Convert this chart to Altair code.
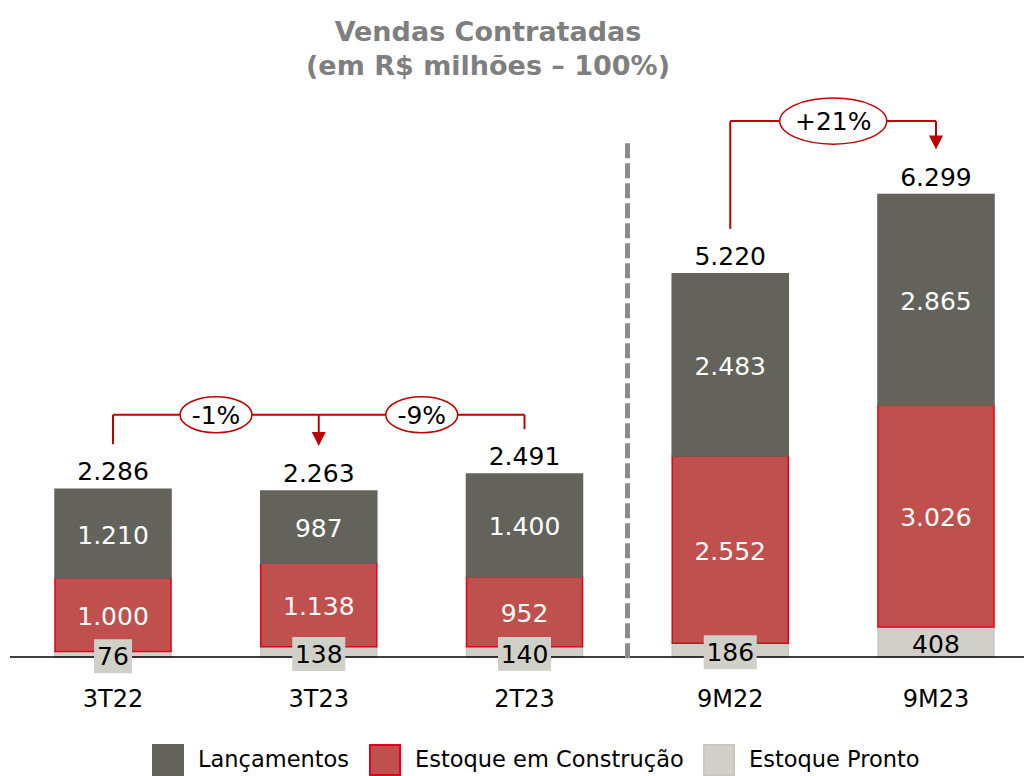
import altair as alt
import pandas as pd

# ---------------- data ----------------
categories = ["3T22", "3T23", "2T23", "9M22", "9M23"]
lancamentos = [1210, 987, 1400, 2483, 2865]
construcao = [1000, 1138, 952, 2552, 3026]
pronto = [76, 138, 140, 186, 408]
totals = [2286, 2263, 2491, 5220, 6299]

series = ["Lançamentos", "Estoque em Construção", "Estoque Pronto"]
title_lines = ["Vendas Contratadas", "(em R$ milhões – 100%)"]

# ---------------- styles ----------------
fill_colors = ["#64635B", "#C0504D", "#D0D0C8"]
stroke_colors = ["#64635B", "#E3001B", "#C8C8C0"]
RED = "#C00000"
FONT = "DejaVu Sans"
LEVEL_1 = 3300   # bracket height (quarterly)
LEVEL_2 = 7300   # bracket height (9 months)
HALF_STEP = 103


def fmt(v):
    return f"{v:,}".replace(",", ".")


rows = []
for i, c in enumerate(categories):
    base = 0
    for s, vals in [("Estoque Pronto", pronto), ("Estoque em Construção", construcao), ("Lançamentos", lancamentos)]:
        v = vals[i]
        rows.append(dict(cat=c, serie=s, value=v, y0=base, y1=base + v, mid=base + v / 2, label=fmt(v)))
        base += v
bars = pd.DataFrame(rows)
tot = pd.DataFrame({"cat": categories, "total": totals, "label": [fmt(t) for t in totals]})

xscale = alt.Scale(domain=categories, range=[45, 984], paddingInner=0.436, paddingOuter=0)
yscale = alt.Scale(domain=[0, 8950], nice=False, zero=True)
xaxis = alt.Axis(domain=False, ticks=False, labelFont=FONT, labelFontSize=24, labelColor="black",
                 labelPadding=30, labelAngle=0)


def X(field):
    return alt.X(f"{field}:N", scale=xscale, title=None, axis=xaxis, sort=categories)


def Y(field):
    return alt.Y(f"{field}:Q", scale=yscale, axis=None)


legend = alt.Legend(orient="none", legendX=142, legendY=744, direction="horizontal", title=None,
                    symbolType="square", symbolSize=900, symbolStrokeWidth=2, labelFont=FONT,
                    labelFontSize=22.5, labelColor="black", labelOffset=14, columnPadding=16,
                    labelLimit=400)

bar_layer = alt.Chart(bars).mark_bar(strokeWidth=1.5).encode(
    x=X("cat"),
    y=Y("y0"),
    y2="y1:Q",
    color=alt.Color("serie:N", scale=alt.Scale(domain=series, range=fill_colors), legend=legend),
    stroke=alt.Stroke("serie:N", scale=alt.Scale(domain=series, range=stroke_colors), legend=legend),
)

inner_labels = alt.Chart(bars).transform_filter("datum.serie != 'Estoque Pronto'").mark_text(
    font=FONT, fontSize=25, color="white", baseline="middle", dy=2
).encode(x=X("cat"), y=Y("mid"), text="label:N")

BOX2 = "M-0.717,-0.64L0.717,-0.64L0.717,0.64L-0.717,0.64Z"
BOX3 = "M-1,-0.64L1,-0.64L1,0.64L-1,0.64Z"
pronto_boxes = alt.Chart(bars).transform_filter("datum.serie == 'Estoque Pronto' && datum.value < 300").mark_point(
    filled=True, opacity=1, color="#D0D0C8", size=2809, yOffset=2
).encode(x=X("cat"), y=Y("mid"),
         shape=alt.condition("datum.value < 100", alt.value(BOX2), alt.value(BOX3)))

pronto_labels = alt.Chart(bars).transform_filter("datum.serie == 'Estoque Pronto'").mark_text(
    font=FONT, fontSize=25, color="black", baseline="middle", dy=3
).encode(x=X("cat"), y=Y("mid"), text="label:N")

total_labels = alt.Chart(tot).mark_text(
    font=FONT, fontSize=25, color="black", baseline="alphabetic", dy=-9
).encode(x=X("cat"), y=Y("total"), text="label:N")

# ---------------- comparison brackets ----------------
tot_map = dict(zip(categories, totals))
brackets = pd.DataFrame([
    {"cat": "3T22", "cat2": "2T23", "level": LEVEL_1},
    {"cat": "9M22", "cat2": "9M23", "level": LEVEL_2},
])
stubs = pd.DataFrame([
    {"cat": "3T22", "total": tot_map["3T22"], "level": LEVEL_1},
    {"cat": "2T23", "total": tot_map["2T23"], "level": LEVEL_1},
    {"cat": "9M22", "total": tot_map["9M22"], "level": LEVEL_2},
])
arrows = pd.DataFrame([
    {"cat": "3T23", "total": tot_map["3T23"], "level": LEVEL_1},
    {"cat": "9M23", "total": tot_map["9M23"], "level": LEVEL_2},
])
badges = pd.DataFrame([
    {"cat": "3T22", "level": LEVEL_1, "label": "-1%"},
    {"cat": "3T23", "level": LEVEL_1, "label": "-9%"},
    {"cat": "9M22", "level": LEVEL_2, "label": "+21%"},
])

hline = alt.Chart(brackets).mark_rule(color=RED, strokeWidth=2).encode(
    x=X("cat"), x2="cat2:N", y=Y("level"))
stub_lines = alt.Chart(stubs).mark_rule(color=RED, strokeWidth=2, yOffset=-45).encode(
    x=X("cat"), y=Y("total"), y2="level:Q")
arrow_shafts = alt.Chart(arrows).mark_rule(color=RED, strokeWidth=2, yOffset=-58).encode(
    x=X("cat"), y=Y("total"), y2="level:Q")
arrow_heads = alt.Chart(arrows).mark_point(
    shape="M-1,-1L1,-1L0,1Z", filled=True, opacity=1, color=RED, size=196, yOffset=-52
).encode(x=X("cat"), y=Y("total"))

ELL_S = "M-1,0A1,0.5 0 1,1 1,0A1,0.5 0 1,1 -1,0Z"
ELL_L = "M-1,0A1,0.43 0 1,1 1,0A1,0.43 0 1,1 -1,0Z"
ellipses = alt.Chart(badges).mark_point(
    filled=False, fill="white", fillOpacity=1, stroke=RED, strokeWidth=1.5, opacity=1, xOffset=HALF_STEP
).encode(
    x=X("cat"), y=Y("level"),
    shape=alt.condition("length(datum.label) > 3", alt.value(ELL_L), alt.value(ELL_S)),
    size=alt.condition("length(datum.label) > 3", alt.value(11449), alt.value(5184)),
)
badge_text = alt.Chart(badges).mark_text(
    font=FONT, fontSize=25, color="black", baseline="middle", dy=1, xOffset=HALF_STEP
).encode(x=X("cat"), y=Y("level"), text="label:N")

divider = alt.Chart(pd.DataFrame({"cat": ["2T23"], "top": [7000], "bottom": [0]})).mark_rule(
    color="#8C8C8C", strokeWidth=5, strokeDash=[15, 5], xOffset=HALF_STEP, y2Offset=3
).encode(x=X("cat"), y=Y("top"), y2="bottom:Q")

baseline = alt.Chart(pd.DataFrame({"zero": [0]})).mark_rule(color="black", strokeWidth=1.5).encode(
    y=Y("zero"))

title = alt.Chart(pd.DataFrame({"t": ["\n".join(title_lines)]})).mark_text(
    font=FONT, fontSize=27, fontWeight="bold", color="#7F7F7F", lineBreak="\n", lineHeight=34,
    baseline="alphabetic", align="center"
).encode(x=alt.value(478), y=alt.value(41), text="t:N")

chart = alt.layer(
    bar_layer, baseline, divider, hline, stub_lines, arrow_shafts, arrow_heads,
    ellipses, badge_text, inner_labels, pronto_boxes, pronto_labels, total_labels, title
).properties(
    width=1014, height=657,
    padding={"left": 10, "top": 0, "right": 0, "bottom": 119},
    autosize=alt.AutoSizeParams(type="none"),
).configure_view(stroke=None)

chart.save("out.html", embed_options={"renderer": "svg", "actions": False})
